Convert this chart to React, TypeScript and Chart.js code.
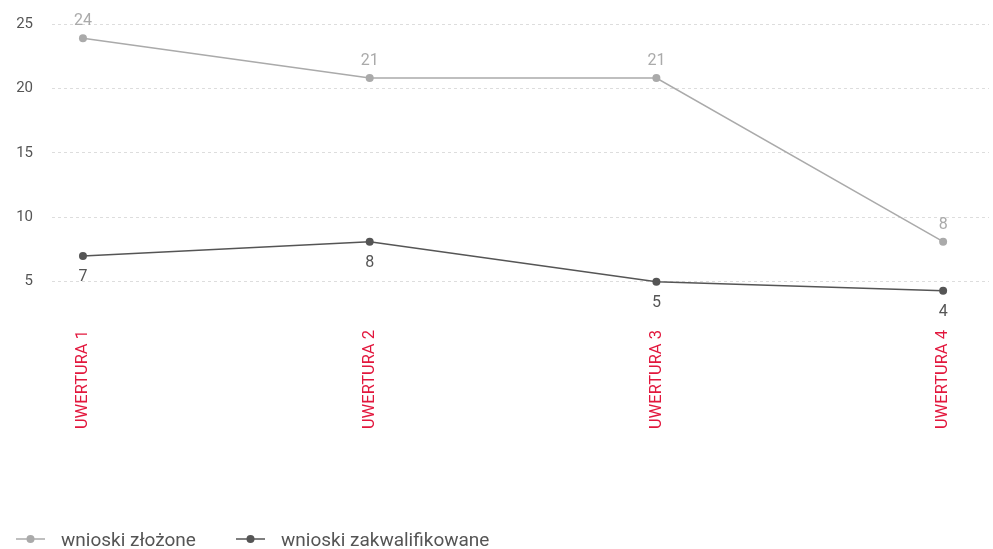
import React, { useEffect, useRef } from "react";
import { Chart, registerables } from "chart.js";

Chart.register(...registerables);

const categories = ["UWERTURA 1", "UWERTURA 2", "UWERTURA 3", "UWERTURA 4"];
const submitted = [23.9, 20.8, 20.8, 8.1];
const qualified = [7.0, 8.1, 5.0, 4.3];
const seriesNames = ["wnioski złożone", "wnioski zakwalifikowane"];
const yTicks = [5, 10, 15, 20, 25];

const GREY_LIGHT = "#aaaaaa";
const GREY_DARK = "#555555";
const RED = "#e2173d";
const FONT = "Roboto, 'DejaVu Sans', sans-serif";

const W = 993;
const H = 549;

const valueLabels = {
  id: "valueLabels",
  afterDatasetsDraw(chart: any) {
    const ctx = chart.ctx;
    chart.data.datasets.forEach((ds: any, di: number) => {
      const meta = chart.getDatasetMeta(di);
      meta.data.forEach((pt: any, i: number) => {
        const v = ds.data[i].y;
        ctx.save();
        ctx.font = `16px ${FONT}`;
        ctx.fillStyle = ds.borderColor;
        ctx.textAlign = "center";
        ctx.textBaseline = "middle";
        const dy = di === 0 ? -17 : 21;
        ctx.fillText(String(Math.round(v)), pt.x, pt.y + dy);
        ctx.restore();
      });
    });
  },
};

export default function App() {
  const ref = useRef<HTMLCanvasElement>(null);

  useEffect(() => {
    if (!ref.current) return;
    const chart = new Chart(ref.current, {
      type: "line",
      data: {
        datasets: [
          {
            label: seriesNames[0],
            data: submitted.map((v, i) => ({ x: i, y: v })),
            borderColor: GREY_LIGHT,
            backgroundColor: GREY_LIGHT,
            pointBackgroundColor: GREY_LIGHT,
            borderWidth: 1.5,
            pointRadius: 4,
            pointBorderWidth: 0,
            tension: 0,
            clip: false as any,
          },
          {
            label: seriesNames[1],
            data: qualified.map((v, i) => ({ x: i, y: v })),
            borderColor: GREY_DARK,
            backgroundColor: GREY_DARK,
            pointBackgroundColor: GREY_DARK,
            borderWidth: 1.5,
            pointRadius: 4,
            pointBorderWidth: 0,
            tension: 0,
            clip: false as any,
          },
        ],
      },
      options: {
        animation: false,
        responsive: false,
        devicePixelRatio: 1,
        layout: { padding: { top: 24, right: 3, left: 0, bottom: 0 } },
        plugins: {
          legend: { display: false },
          tooltip: { enabled: false },
        },
        scales: {
          x: {
            type: "linear",
            min: -0.108,
            max: 3.16,
            afterBuildTicks: (s: any) => {
              s.ticks = categories.map((_, i) => ({ value: i }));
            },
            afterFit: (s: any) => {
              s.height = H - 310;
            },
            grid: { display: false, drawTicks: false },
            border: { display: false },
            ticks: {
              color: RED,
              font: { family: FONT, size: 16.5 },
              padding: 20,
              minRotation: 90,
              maxRotation: 90,
              autoSkip: false,
              callback: (v: any) => categories[v as number] ?? "",
            },
          },
          y: {
            min: 2.8,
            max: 25,
            afterBuildTicks: (s: any) => {
              s.ticks = yTicks.map((v) => ({ value: v }));
            },
            afterFit: (s: any) => {
              s.width = 52;
              s.paddingTop = 0;
              s.paddingBottom = 0;
            },
            grid: { color: "#dddddd", drawTicks: false, lineWidth: 1 },
            border: { display: false, dash: [3, 3] },
            ticks: {
              color: GREY_DARK,
              font: { family: FONT, size: 15 },
              padding: 19,
            },
          },
        },
      },
      plugins: [valueLabels],
    });
    return () => chart.destroy();
  }, []);

  const legendItem = (name: string, color: string, left: number) => (
    <div
      key={name}
      style={{
        position: "absolute",
        left,
        top: 528,
        height: 22,
        display: "flex",
        alignItems: "center",
        whiteSpace: "nowrap",
      }}
    >
      <svg width={29} height={10} style={{ marginRight: 16 }}>
        <line x1={0} y1={5} x2={29} y2={5} stroke={color} strokeWidth={1.5} />
        <circle cx={14.5} cy={5} r={4} fill={color} />
      </svg>
      <span style={{ fontFamily: FONT, fontSize: 19, color: GREY_DARK }}>{name}</span>
    </div>
  );

  return (
    <div style={{ position: "absolute", left: 0, top: 0, width: W, height: H, background: "#fff" }}>
      <canvas ref={ref} width={W} height={H} style={{ width: W, height: H, display: "block" }} />
      {legendItem(seriesNames[0], GREY_LIGHT, 16)}
      {legendItem(seriesNames[1], GREY_DARK, 236)}
    </div>
  );
}
